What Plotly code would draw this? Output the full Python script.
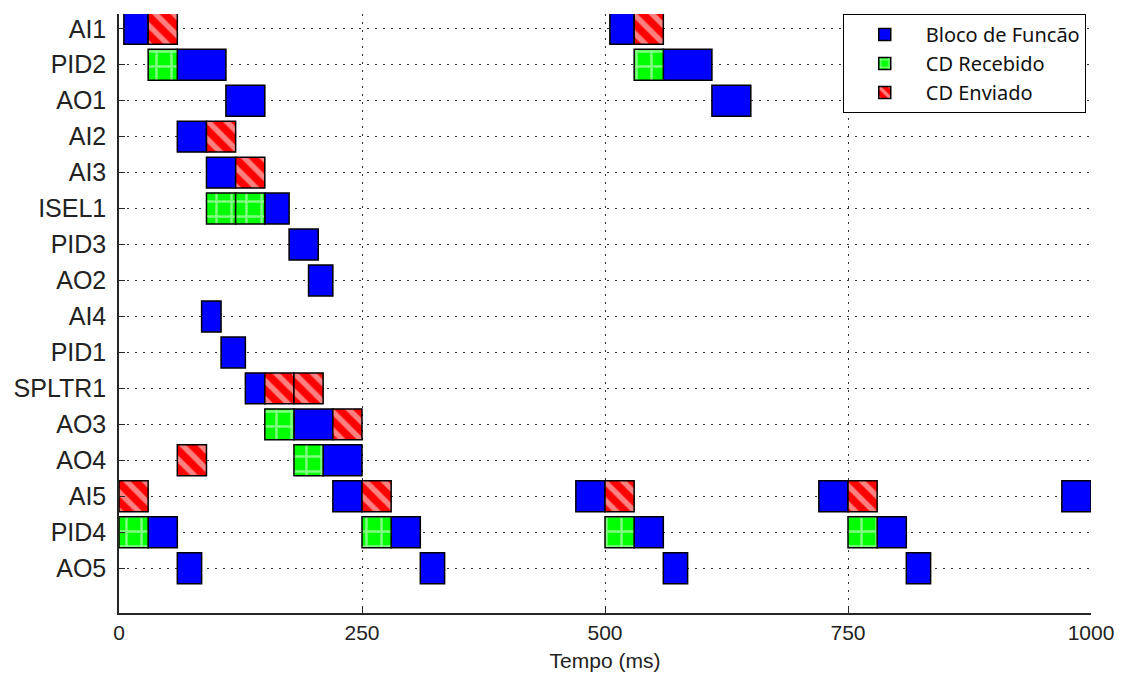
import plotly.graph_objects as go

rows = ["AI1", "PID2", "AO1", "AI2", "AI3", "ISEL1", "PID3", "AO2",
        "AI4", "PID1", "SPLTR1", "AO3", "AO4", "AI5", "PID4", "AO5"]

# Bloco de Função (execução do bloco)
fb_rows = ["AI1", "AI1", "PID2", "PID2", "AO1", "AO1", "AI2", "AI3", "ISEL1",
           "PID3", "AO2", "AI4", "PID1", "SPLTR1", "AO3", "AO4",
           "AI5", "AI5", "AI5", "AI5", "PID4", "PID4", "PID4", "PID4",
           "AO5", "AO5", "AO5", "AO5"]
fb_start = [5, 505, 60, 560, 110, 610, 60, 90, 150,
            175, 195, 85, 105, 130, 180, 210,
            220, 470, 720, 970, 30, 280, 530, 780,
            60, 310, 560, 810]
fb_end = [30, 530, 110, 610, 150, 650, 90, 120, 175,
          205, 220, 105, 130, 150, 220, 250,
          250, 500, 750, 1000, 60, 310, 560, 810,
          85, 335, 585, 835]

# CD Recebido
rx_rows = ["PID2", "PID2", "ISEL1", "ISEL1", "AO3", "AO4",
           "PID4", "PID4", "PID4", "PID4"]
rx_start = [30, 530, 90, 120, 150, 180, 0, 250, 500, 750]
rx_end = [60, 560, 120, 150, 180, 210, 30, 280, 530, 780]

# CD Enviado
tx_rows = ["AI1", "AI1", "AI2", "AI3", "SPLTR1", "SPLTR1", "AO3", "AO4",
           "AI5", "AI5", "AI5", "AI5"]
tx_start = [30, 530, 90, 120, 150, 180, 220, 60, 0, 250, 500, 750]
tx_end = [60, 560, 120, 150, 180, 210, 250, 90, 30, 280, 530, 780]

x_ticks = [0, 250, 500, 750, 1000]

BAR_W = 0.86
LINE = dict(color="black", width=1.5)
GRID_DASH = "1.5px,6.5px"

fig = go.Figure()

fig.add_trace(go.Bar(
    name="Bloco de Funcão", orientation="h", y=fb_rows,
    x=[e - s for s, e in zip(fb_start, fb_end)], base=fb_start, width=BAR_W,
    marker=dict(color="#0000FF", line=LINE),
))
fig.add_trace(go.Bar(
    name="CD Recebido", orientation="h", y=rx_rows,
    x=[e - s for s, e in zip(rx_start, rx_end)], base=rx_start, width=BAR_W,
    marker=dict(color="#00FF00", line=LINE,
                pattern=dict(shape="+", fgcolor="white", size=15,
                             solidity=0.3, fillmode="overlay")),
))
fig.add_trace(go.Bar(
    name="CD Enviado", orientation="h", y=tx_rows,
    x=[e - s for s, e in zip(tx_start, tx_end)], base=tx_start, width=BAR_W,
    marker=dict(color="#FF0000", line=LINE,
                pattern=dict(shape="\\", fgcolor="white", size=13,
                             solidity=0.42, fillmode="overlay")),
))

fig.update_layout(
    width=1127, height=684,
    margin=dict(l=108, r=44, t=6, b=79),
    paper_bgcolor="white", plot_bgcolor="white",
    barmode="overlay",
    font=dict(family="Liberation Sans, Arial, sans-serif", size=21, color="#222222"),
    showlegend=True,
    legend=dict(
        x=0.7446, y=1.0, xanchor="left", yanchor="top",
        bgcolor="white", bordercolor="black", borderwidth=1,
        font=dict(family="Noto Sans, Open Sans, sans-serif", size=20, color="#111111"),
        tracegroupgap=0, itemwidth=72,
    ),
    xaxis=dict(
        range=[0, 1000], tickvals=x_ticks, ticktext=[str(v) for v in x_ticks],
        showgrid=True, gridcolor="#333333", griddash=GRID_DASH, gridwidth=1.2,
        showline=True, linecolor="#262626", linewidth=1.5, mirror=False,
        ticks="inside", ticklen=7, tickcolor="#262626", tickwidth=1,
        zeroline=False, tickfont=dict(size=21),
        title=dict(text="Tempo (ms)", font=dict(size=21), standoff=10),
    ),
    yaxis=dict(
        type="category", categoryorder="array", categoryarray=rows,
        range=[16.245, -0.41],
        showgrid=True, gridcolor="#333333", griddash=GRID_DASH, gridwidth=1.2,
        showline=True, linecolor="#262626", linewidth=1.5, mirror=False,
        ticks="inside", ticklen=6, tickcolor="#262626", tickwidth=1,
        zeroline=False, tickfont=dict(size=25), ticklabelstandoff=6,
    ),
)

fig.write_html("out.html")
